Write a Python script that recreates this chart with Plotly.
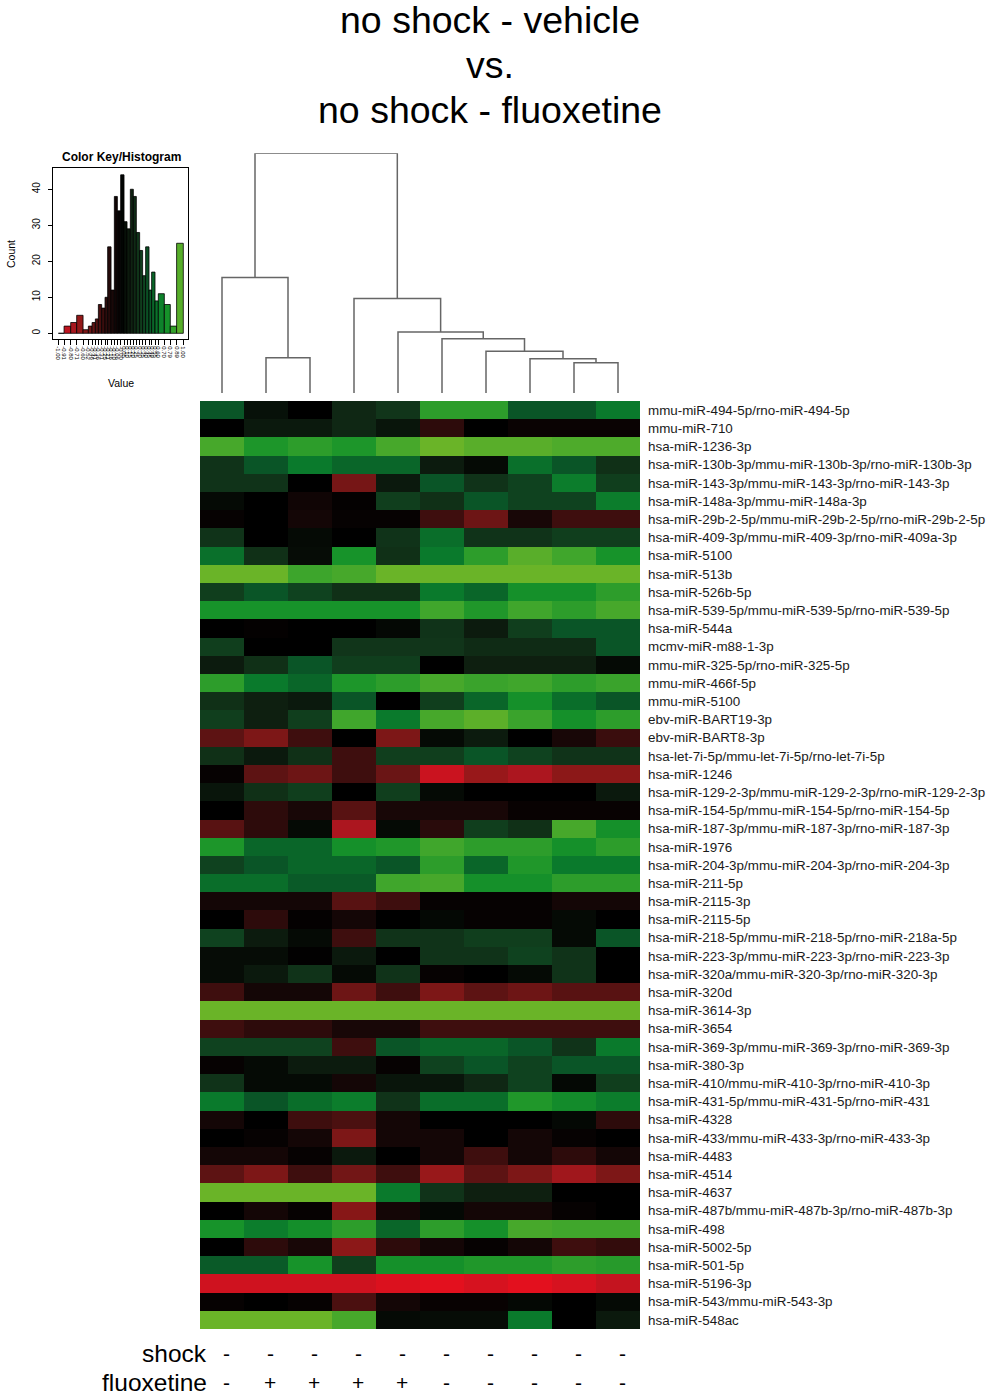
import plotly.graph_objects as go

W, H = 992, 1398
FONT = "Liberation Sans, Arial, sans-serif"

# columns left-to-right as in the heatmap (after clustering)
shock = ["-", "-", "-", "-", "-", "-", "-", "-", "-", "-"]
fluoxetine = ["-", "+", "+", "+", "+", "-", "-", "-", "-", "-"]

mirnas = [
    "mmu-miR-494-5p/rno-miR-494-5p", "mmu-miR-710", "hsa-miR-1236-3p",
    "hsa-miR-130b-3p/mmu-miR-130b-3p/rno-miR-130b-3p",
    "hsa-miR-143-3p/mmu-miR-143-3p/rno-miR-143-3p",
    "hsa-miR-148a-3p/mmu-miR-148a-3p",
    "hsa-miR-29b-2-5p/mmu-miR-29b-2-5p/rno-miR-29b-2-5p",
    "hsa-miR-409-3p/mmu-miR-409-3p/rno-miR-409a-3p",
    "hsa-miR-5100", "hsa-miR-513b", "hsa-miR-526b-5p",
    "hsa-miR-539-5p/mmu-miR-539-5p/rno-miR-539-5p",
    "hsa-miR-544a", "mcmv-miR-m88-1-3p", "mmu-miR-325-5p/rno-miR-325-5p",
    "mmu-miR-466f-5p", "mmu-miR-5100", "ebv-miR-BART19-3p", "ebv-miR-BART8-3p",
    "hsa-let-7i-5p/mmu-let-7i-5p/rno-let-7i-5p", "hsa-miR-1246",
    "hsa-miR-129-2-3p/mmu-miR-129-2-3p/rno-miR-129-2-3p",
    "hsa-miR-154-5p/mmu-miR-154-5p/rno-miR-154-5p",
    "hsa-miR-187-3p/mmu-miR-187-3p/rno-miR-187-3p",
    "hsa-miR-1976", "hsa-miR-204-3p/mmu-miR-204-3p/rno-miR-204-3p",
    "hsa-miR-211-5p", "hsa-miR-2115-3p", "hsa-miR-2115-5p",
    "hsa-miR-218-5p/mmu-miR-218-5p/rno-miR-218a-5p",
    "hsa-miR-223-3p/mmu-miR-223-3p/rno-miR-223-3p",
    "hsa-miR-320a/mmu-miR-320-3p/rno-miR-320-3p",
    "hsa-miR-320d", "hsa-miR-3614-3p", "hsa-miR-3654",
    "hsa-miR-369-3p/mmu-miR-369-3p/rno-miR-369-3p", "hsa-miR-380-3p",
    "hsa-miR-410/mmu-miR-410-3p/rno-miR-410-3p",
    "hsa-miR-431-5p/mmu-miR-431-5p/rno-miR-431", "hsa-miR-4328",
    "hsa-miR-433/mmu-miR-433-3p/rno-miR-433-3p", "hsa-miR-4483",
    "hsa-miR-4514", "hsa-miR-4637",
    "hsa-miR-487b/mmu-miR-487b-3p/rno-miR-487b-3p", "hsa-miR-498",
    "hsa-miR-5002-5p", "hsa-miR-501-5p", "hsa-miR-5196-3p",
    "hsa-miR-543/mmu-miR-543-3p", "hsa-miR-548ac",
]

# scaled expression, one row per miRNA (estimated from the colours)
values = [
    [0.45, 0.08, 0, 0.2, 0.28, 0.82, 0.82, 0.45, 0.45, 0.6],
    [0, 0.12, 0.12, 0.2, 0.1, -0.22, 0, -0.05, -0.05, -0.05],
    [0.9, 0.77, 0.82, 0.77, 0.9, 1.0, 0.95, 0.95, 0.92, 0.92],
    [0.27, 0.45, 0.6, 0.52, 0.52, 0.13, 0.05, 0.56, 0.45, 0.25],
    [0.27, 0.27, 0, -0.52, 0.12, 0.45, 0.27, 0.35, 0.62, 0.33],
    [0.05, 0, -0.08, -0.02, 0.33, 0.25, 0.45, 0.35, 0.35, 0.62],
    [-0.03, 0, -0.1, -0.03, -0.03, -0.3, -0.48, -0.12, -0.3, -0.3],
    [0.27, 0, 0.05, 0, 0.27, 0.55, 0.27, 0.27, 0.33, 0.33],
    [0.56, 0.25, 0.06, 0.75, 0.25, 0.6, 0.82, 0.95, 0.88, 0.75],
    [1, 1, 0.87, 0.9, 1, 1, 1, 1, 1, 1],
    [0.33, 0.45, 0.35, 0.25, 0.25, 0.6, 0.52, 0.73, 0.73, 0.82],
    [0.75, 0.75, 0.75, 0.75, 0.75, 0.88, 0.78, 0.88, 0.82, 0.9],
    [0, -0.02, 0, 0, 0.04, 0.27, 0.13, 0.33, 0.45, 0.45],
    [0.33, 0, 0, 0.28, 0.28, 0.28, 0.22, 0.22, 0.22, 0.45],
    [0.13, 0.25, 0.45, 0.33, 0.33, 0, 0.15, 0.15, 0.15, 0.05],
    [0.82, 0.6, 0.52, 0.77, 0.82, 0.9, 0.86, 0.88, 0.82, 0.86],
    [0.25, 0.15, 0.12, 0.45, 0, 0.33, 0.52, 0.73, 0.55, 0.45],
    [0.33, 0.15, 0.33, 0.88, 0.6, 0.9, 0.96, 0.86, 0.73, 0.82],
    [-0.42, -0.55, -0.3, 0, -0.55, 0.05, 0.13, 0, -0.12, -0.28],
    [0.25, 0.12, 0.25, -0.3, 0.33, 0.33, 0.45, 0.35, 0.27, 0.27],
    [-0.03, -0.42, -0.48, -0.3, -0.47, -0.9, -0.68, -0.78, -0.62, -0.62],
    [0.1, 0.25, 0.33, 0, 0.33, 0.05, 0, 0, 0, 0.12],
    [0, -0.22, -0.12, -0.4, -0.12, -0.12, -0.12, -0.04, -0.04, -0.04],
    [-0.4, -0.22, 0.05, -0.78, 0.05, -0.2, 0.33, 0.25, 0.9, 0.73],
    [0.77, 0.52, 0.52, 0.73, 0.78, 0.88, 0.82, 0.82, 0.73, 0.82],
    [0.35, 0.45, 0.52, 0.52, 0.45, 0.82, 0.52, 0.78, 0.6, 0.6],
    [0.55, 0.55, 0.47, 0.47, 0.88, 0.9, 0.73, 0.73, 0.82, 0.82],
    [-0.1, -0.1, -0.1, -0.4, -0.3, -0.03, -0.03, -0.03, -0.1, -0.1],
    [0, -0.22, -0.02, -0.1, 0, 0.04, -0.03, -0.03, 0.05, 0],
    [0.35, 0.13, 0.05, -0.3, 0.27, 0.27, 0.33, 0.33, 0.05, 0.45],
    [0.06, 0.06, -0.01, 0.12, 0, 0.27, 0.27, 0.35, 0.27, 0],
    [0.06, 0.12, 0.27, 0.05, 0.27, -0.03, 0, 0.05, 0.27, 0],
    [-0.3, -0.1, -0.1, -0.48, -0.3, -0.55, -0.42, -0.48, -0.4, -0.4],
    [1, 1, 1, 1, 1, 1, 1, 1, 1, 1],
    [-0.3, -0.22, -0.22, -0.12, -0.12, -0.3, -0.3, -0.3, -0.3, -0.3],
    [0.35, 0.35, 0.35, -0.3, 0.45, 0.52, 0.52, 0.45, 0.27, 0.6],
    [-0.03, 0.05, 0.13, 0.13, -0.03, 0.35, 0.45, 0.35, 0.45, 0.45],
    [0.27, 0.05, 0.05, -0.1, 0.1, 0.1, 0.2, 0.35, 0.04, 0.33],
    [0.6, 0.45, 0.55, 0.62, 0.27, 0.55, 0.55, 0.78, 0.7, 0.62],
    [-0.1, 0, -0.3, -0.35, -0.1, 0, 0, 0, 0.04, -0.22],
    [0, -0.03, -0.1, -0.55, -0.1, -0.1, 0, -0.1, -0.03, 0],
    [-0.1, -0.1, -0.03, 0.12, 0, -0.1, -0.3, -0.1, -0.22, -0.1],
    [-0.42, -0.55, -0.3, -0.5, -0.3, -0.68, -0.42, -0.55, -0.72, -0.55],
    [1, 1, 1, 1, 0.6, 0.27, 0.15, 0.15, 0, 0],
    [0, -0.1, -0.03, -0.6, -0.1, 0.04, -0.1, -0.1, -0.03, 0],
    [0.75, 0.62, 0.72, 0.82, 0.52, 0.82, 0.73, 0.9, 0.88, 0.88],
    [0, -0.22, -0.12, -0.62, -0.22, -0.1, -0.03, -0.1, -0.3, -0.25],
    [0.47, 0.47, 0.75, 0.33, 0.73, 0.73, 0.78, 0.78, 0.82, 0.8],
    [-0.92, -0.92, -0.92, -0.92, -0.97, -1, -0.95, -1, -0.95, -0.88],
    [-0.03, 0, -0.03, -0.35, -0.1, -0.04, -0.04, 0.04, 0, 0.05],
    [1, 1, 1, 0.9, 0.05, 0.06, 0.06, 0.6, 0, 0.12],
]

# column dendrogram, hclust style: negative = leaf (1-based), positive = earlier merge
merge_a = [-9, -8, -7, -6, -5, -2, -4, -1, 8]
merge_b = [-10, 1, 2, 3, 4, -3, 5, 6, 7]
merge_h = [30.3, 34.3, 41.7, 54.3, 61.0, 35.3, 94.7, 115.7, 240.0]

# colour key histogram
breaks = [-1.0, -0.909, -0.803, -0.707, -0.605, -0.52, -0.461, -0.408, -0.36,
          -0.307, -0.253, -0.211, -0.157, -0.104, -0.056, -0.003, 0.051, 0.099,
          0.152, 0.2, 0.248, 0.301, 0.349, 0.397, 0.451, 0.493, 0.547, 0.6,
          0.696, 0.792, 0.893, 1.0]
counts = [0, 2, 3, 5, 1, 2, 3, 4, 8, 7, 10, 24, 12, 38, 34, 44, 31, 29, 40, 38,
          28, 23, 16, 24, 12, 17, 9, 11, 8, 2, 25]

key_v = [-1.0, -0.8, -0.65, -0.5, -0.3, -0.15, 0.0, 0.15, 0.3, 0.45, 0.6, 0.75, 0.88, 1.0]
key_c = ["#e3101e", "#b01620", "#921818", "#721616", "#3e0e0e", "#1e0909", "#000000",
         "#0e1f10", "#11381b", "#0a5527", "#0a7a2c", "#17932a", "#40a62c", "#6ab428"]
colorscale = [[(v + 1) / 2, c] for v, c in zip(key_v, key_c)]


def key_colour(v):
    def rgb(h):
        return [int(h[i:i + 2], 16) for i in (1, 3, 5)]
    v = max(-1.0, min(1.0, v))
    for i in range(len(key_v) - 1):
        if key_v[i] <= v <= key_v[i + 1]:
            t = (v - key_v[i]) / (key_v[i + 1] - key_v[i])
            a, b = rgb(key_c[i]), rgb(key_c[i + 1])
            return "rgb(%d,%d,%d)" % tuple(round(a[k] + (b[k] - a[k]) * t) for k in range(3))
    return key_c[-1]


def px_x(p):
    return p / W


def px_y(p):
    return 1 - p / H


fig = go.Figure()

# heatmap
fig.add_trace(go.Heatmap(
    z=values, x=list(range(10)), y=list(range(len(mirnas))),
    colorscale=colorscale, zmin=-1, zmax=1, showscale=False,
    xaxis="x", yaxis="y", hoverinfo="skip",
))

# dendrogram segments
node_x, node_h = {}, {}
dx, dy = [], []
for k, (a, b, h) in enumerate(zip(merge_a, merge_b, merge_h), start=1):
    pts = []
    for c in (a, b):
        if c < 0:
            pts.append((-c - 1, 0.0))
        else:
            pts.append((node_x[c], node_h[c]))
    (xa, ha), (xb, hb) = pts
    dx += [xa, xa, xb, xb, None]
    dy += [ha, h, h, hb, None]
    node_x[k] = (xa + xb) / 2
    node_h[k] = h
fig.add_trace(go.Scatter(
    x=dx, y=dy, mode="lines", line=dict(color="#666666", width=1.5),
    xaxis="x2", yaxis="y2", hoverinfo="skip", showlegend=False,
))

# histogram
mids = [(breaks[i] + breaks[i + 1]) / 2 for i in range(len(counts))]
widths = [breaks[i + 1] - breaks[i] for i in range(len(counts))]
fig.add_trace(go.Bar(
    x=mids, y=counts, width=widths,
    marker=dict(color=[key_colour(m) for m in mids], line=dict(color="#000000", width=0.8)),
    xaxis="x3", yaxis="y3", hoverinfo="skip", showlegend=False,
))

annotations = []
titles = ["no shock - vehicle", "vs.", "no shock - fluoxetine"]
for t, yy in zip(titles, [20, 65, 110]):
    annotations.append(dict(text=t, x=px_x(490), y=px_y(yy), xref="paper", yref="paper",
                            showarrow=False, font=dict(size=37.5, color="#000000", family=FONT),
                            xanchor="center", yanchor="middle"))
for lab, signs, yy in [("shock", shock, 1353), ("fluoxetine", fluoxetine, 1382)]:
    annotations.append(dict(text=lab, x=px_x(209), y=px_y(yy), xref="paper", yref="paper",
                            showarrow=False, font=dict(size=24.5, color="#000000", family=FONT),
                            xanchor="right", yanchor="middle"))
    for i, s in enumerate(signs):
        annotations.append(dict(text=s, x=i + 0.1, y=px_y(yy), xref="x", yref="paper",
                                showarrow=False, font=dict(size=21, color="#000000", family=FONT),
                                xanchor="center", yanchor="middle"))
annotations.append(dict(text="<b>Color Key/Histogram</b>", x=px_x(121), y=px_y(157),
                        xref="paper", yref="paper", showarrow=False,
                        xanchor="center", yanchor="middle",
                        font=dict(size=12, color="#000000", family=FONT)))
annotations.append(dict(text="Count", x=px_x(11), y=px_y(254), xref="paper", yref="paper",
                        showarrow=False, textangle=-90, xanchor="center", yanchor="middle",
                        font=dict(size=10.5, color="#000000", family=FONT)))
annotations.append(dict(text="Value", x=px_x(121), y=px_y(383), xref="paper", yref="paper",
                        showarrow=False, xanchor="center", yanchor="middle",
                        font=dict(size=10.5, color="#000000", family=FONT)))

fig.update_layout(
    template="none",
    width=W, height=H, autosize=False,
    margin=dict(l=0, r=0, t=0, b=0),
    paper_bgcolor="#ffffff", plot_bgcolor="#ffffff",
    font=dict(family=FONT, color="#000000"),
    showlegend=False,
    annotations=annotations,
    xaxis=dict(domain=[px_x(200), px_x(640)], range=[-0.5, 9.5], showticklabels=False,
               showgrid=False, zeroline=False, ticks="", anchor="y", automargin=False),
    yaxis=dict(domain=[px_y(1329), px_y(401)], range=[len(mirnas) - 0.5, -0.5],
               tickvals=list(range(len(mirnas))), ticktext=mirnas, side="right",
               ticks="", showgrid=False, zeroline=False, anchor="x", automargin=False,
               ticklabelstandoff=7, tickfont=dict(size=13.4, color="#1a1a1a", family=FONT)),
    xaxis2=dict(domain=[px_x(200), px_x(640)], range=[-0.5, 9.5], visible=False,
                anchor="y2"),
    yaxis2=dict(domain=[px_y(393), px_y(153.3)], range=[0, 240], visible=False,
                anchor="x2"),
    xaxis3=dict(domain=[px_x(52.7), px_x(188.3)], range=[-1.091, 1.08], anchor="y3",
                tickvals=breaks, ticktext=["%.2f" % b for b in breaks], tickangle=90,
                ticks="outside", ticklen=5, tickcolor="#000000",
                tickfont=dict(size=6, color="#000000", family=FONT),
                showline=True, linecolor="#000000", mirror=True, showgrid=False,
                zeroline=False, automargin=False),
    yaxis3=dict(domain=[px_y(339), px_y(168)], range=[-1.58, 45.9], anchor="x3",
                tickvals=[0, 10, 20, 30, 40], tickangle=-90, ticks="outside", ticklen=4,
                tickcolor="#000000", tickfont=dict(size=10, color="#000000", family=FONT),
                ticklabelstandoff=4,
                showline=True, linecolor="#000000", mirror=True, showgrid=False,
                zeroline=False, automargin=False),
)

fig.write_html("out.html", config={"displayModeBar": False},
               post_script="document.body.style.margin='0';")
